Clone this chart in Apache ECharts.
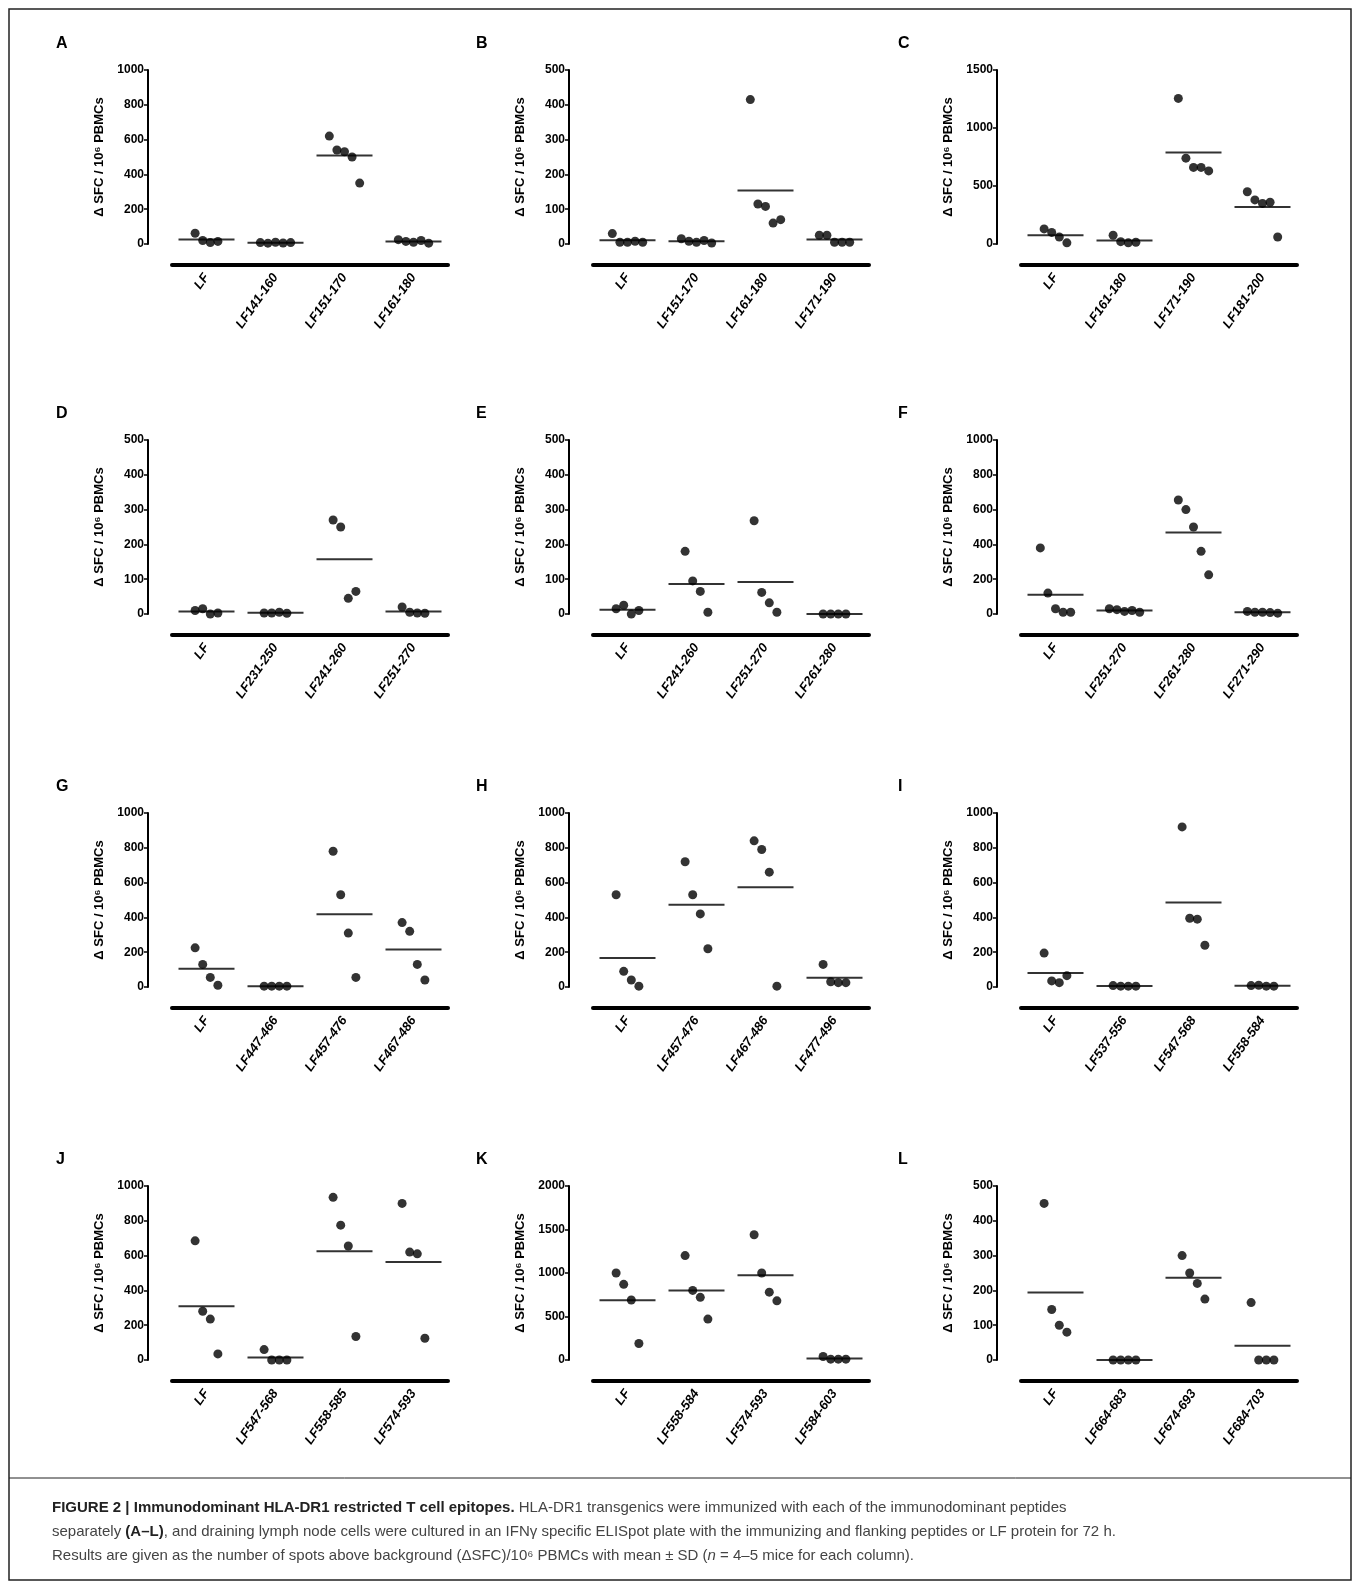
<!DOCTYPE html>
<html><head><meta charset="utf-8">
<script src="https://cdn.jsdelivr.net/npm/echarts@6/dist/echarts.min.js"></script>
<style>html,body{margin:0;padding:0;background:#fff}#chart{width:1360px;height:1589px}</style>
</head><body><div id="chart"></div>
<script>
// 面板字母、类别、数值
var letters = ['A','B','C','D','E','F','G','H','I','J','K','L'];
var catsA = ['LF','LF141-160','LF151-170','LF161-180'];
var catsB = ['LF','LF151-170','LF161-180','LF171-190'];
var catsC = ['LF','LF161-180','LF171-190','LF181-200'];
var catsD = ['LF','LF231-250','LF241-260','LF251-270'];
var catsE = ['LF','LF241-260','LF251-270','LF261-280'];
var catsF = ['LF','LF251-270','LF261-280','LF271-290'];
var catsG = ['LF','LF447-466','LF457-476','LF467-486'];
var catsH = ['LF','LF457-476','LF467-486','LF477-496'];
var catsI = ['LF','LF537-556','LF547-568','LF558-584'];
var catsJ = ['LF','LF547-568','LF558-585','LF574-593'];
var catsK = ['LF','LF558-584','LF574-593','LF584-603'];
var catsL = ['LF','LF664-683','LF674-693','LF684-703'];

var valsA = [[62,20,8,15],[8,5,10,6,8],[620,540,530,500,350],[25,15,10,20,5]];
var valsB = [[30,5,5,8,5],[15,8,5,10,3],[415,115,108,60,70],[25,25,5,5,5]];
var valsC = [[130,100,60,10],[75,20,10,15],[1255,740,660,660,630],[450,380,350,360,60]];
var valsD = [[10,15,0,3],[3,3,5,2],[270,250,45,65],[20,5,3,2]];
var valsE = [[15,25,0,10],[180,95,65,5],[268,62,32,5],[0,0,0,0]];
var valsF = [[380,120,30,10,10],[30,25,15,20,10],[655,600,500,360,225],[15,10,10,8,5]];
var valsG = [[225,130,55,10],[5,5,5,5],[780,530,310,55],[370,320,130,40]];
var valsH = [[530,90,40,5],[720,530,420,220],[840,790,660,5],[130,30,25,25]];
var valsI = [[195,35,25,65],[8,5,5,5],[920,395,390,240],[8,10,5,5]];
var valsJ = [[685,280,235,35],[60,0,0,0],[935,775,655,135],[900,620,610,125]];
var valsK = [[1000,870,690,190],[1200,800,720,470],[1440,1000,780,680],[40,10,10,10]];
var valsL = [[450,145,100,80],[0,0,0,0],[300,250,220,175],[165,0,0,0]];

var yMax = [1000,500,1500,500,500,1000,1000,1000,1000,1000,2000,500];
var yStep = [200,100,500,100,100,200,200,200,200,200,500,100];

var cats = [catsA,catsB,catsC,catsD,catsE,catsF,catsG,catsH,catsI,catsJ,catsK,catsL];
var vals = [valsA,valsB,valsC,valsD,valsE,valsF,valsG,valsH,valsI,valsJ,valsK,valsL];

var myChart = echarts.init(document.getElementById('chart'));
var colLeft = [172, 593, 1021];
var rowTop = [70, 440, 813, 1186];
var grids = [], xAxes = [], yAxes = [], series = [], graphics = [];
var font = 'Arial, "Liberation Sans", sans-serif';

for (var p = 0; p < 12; p++) {
	var c = p % 3, r = Math.floor(p / 3);
	grids.push({left: colLeft[c], top: rowTop[r], width: 276, height: 174});
	xAxes.push({
		type: 'category', gridIndex: p, data: cats[p], offset: 21,
		axisLine: {onZero: false, lineStyle: {color: '#000', width: 4}},
		axisTick: {alignWithLabel: true, length: 6, lineStyle: {color: '#000', width: 2}},
		axisLabel: {rotate: 55, fontFamily: font, fontStyle: 'italic', fontWeight: 'bold', fontSize: 13, color: '#000', margin: 10}
	});
	xAxes.push({type: 'value', gridIndex: p, min: -0.5, max: 3.5, show: false});
	yAxes.push({
		type: 'value', gridIndex: p, min: 0, max: yMax[p], interval: yStep[p], offset: 24,
		name: 'Δ SFC / 10⁶ PBMCs', nameLocation: 'middle', nameGap: 42,
		nameTextStyle: {fontFamily: font, fontWeight: 'bold', fontSize: 13, color: '#000'},
		axisLine: {show: true, onZero: false, lineStyle: {color: '#000', width: 2}},
		axisTick: {show: true, length: 4, lineStyle: {color: '#000', width: 1.5}},
		axisLabel: {formatter: function (v) { return String(v); }, fontFamily: '"Liberation Sans Narrow", Arial, sans-serif', fontWeight: 'bold', fontSize: 12, color: '#000', margin: 4},
		splitLine: {show: false}
	});
	var pts = [], means = [];
	vals[p].forEach(function (g, ci) {
		var n = g.length, s = 0;
		g.forEach(function (v, i) {
			s += v;
			pts.push([ci + (i - (n - 1) / 2) * 0.11, v]);
		});
		means.push([ci, s / n]);
	});
	series.push({type: 'scatter', xAxisIndex: 2 * p + 1, yAxisIndex: p, data: pts,
		symbolSize: 9, itemStyle: {color: '#000'}, silent: true});
	series.push({type: 'scatter', xAxisIndex: 2 * p + 1, yAxisIndex: p, data: means,
		symbol: 'rect', symbolSize: [56, 2], itemStyle: {color: '#000'}, silent: true});
	graphics.push({type: 'text', left: [56, 476, 898][c], top: rowTop[r] - 34,
		style: {text: letters[p], font: 'bold 16px ' + font, fill: '#000'}});
}

graphics.push({type: 'rect', shape: {x: 9, y: 9, width: 1342, height: 1571},
	style: {fill: 'none', stroke: '#222', lineWidth: 1.5}});
graphics.push({type: 'line', shape: {x1: 9, y1: 1478, x2: 1351, y2: 1478},
	style: {stroke: '#222', lineWidth: 1}});
graphics.push({type: 'text', left: 52, top: 1496, style: {
	text: '{b|FIGURE 2 | Immunodominant HLA-DR1 restricted T cell epitopes.} HLA-DR1 transgenics were immunized with each of the immunodominant peptides\n' +
		'separately {b|(A–L)}, and draining lymph node cells were cultured in an IFNγ specific ELISpot plate with the immunizing and flanking peptides or LF protein for 72 h.\n' +
		'Results are given as the number of spots above background (ΔSFC)/10⁶ PBMCs with mean ± SD ({i|n} = 4–5 mice for each column).',
	font: '15px ' + font, fill: '#444', lineHeight: 24,
	rich: {b: {fontWeight: 'bold', fill: '#222', fontSize: 15, fontFamily: font}, i: {fontStyle: 'italic', fontSize: 15, fontFamily: font}}
}});

var option = {animation: false, grid: grids, xAxis: xAxes, yAxis: yAxes, series: series, graphic: graphics};
myChart.setOption(option);
</script>
</body></html>
